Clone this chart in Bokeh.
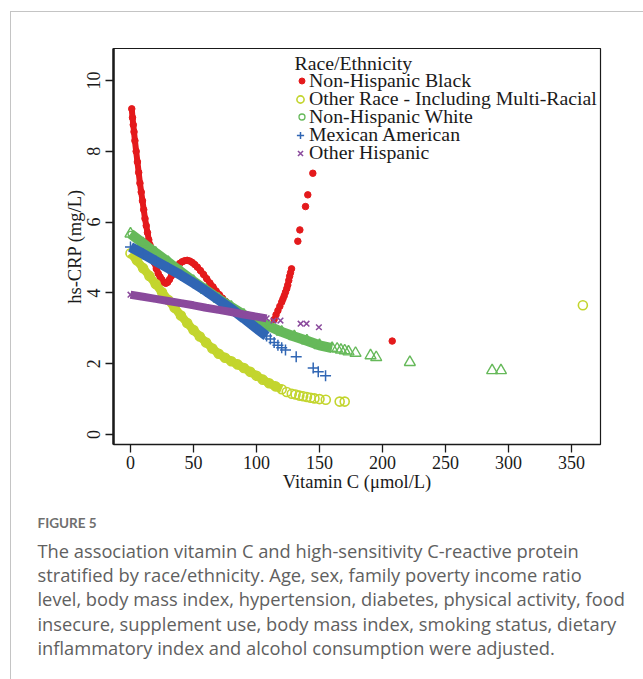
from bokeh.plotting import figure
from bokeh.layouts import column
from bokeh.models import Legend, LegendItem, Label, FixedTicker, Range1d, InlineStyleSheet
from bokeh.embed import file_html
from bokeh.resources import INLINE

# ---------------- data ----------------
# Non-Hispanic Black (dense band + sparse tail)
black_x = [1.0, 1.6, 2.2, 2.8, 3.5, 4.5, 5.5, 6.5, 7.5, 8.5, 9.5, 10.5, 11.5, 12.5, 13.5, 14.5,
           15.5, 16.5, 17.5, 19, 20.5, 22, 23.5, 25, 26.5, 28, 29.5, 31, 32.5, 34, 35.5, 37, 39,
           41, 43, 45, 47, 49, 51, 53, 55.5, 58, 60.5, 63, 65.5, 68, 70.5, 73, 75.5, 78, 80.5,
           83, 85.5, 88, 91, 94, 97, 100, 103, 106, 109, 112]
black_y = [9.2, 8.95, 8.75, 8.55, 8.3, 8.0, 7.7, 7.4, 7.1, 6.85, 6.6, 6.35, 6.1, 5.9, 5.7, 5.5,
           5.35, 5.2, 5.05, 4.85, 4.68, 4.55, 4.45, 4.37, 4.3, 4.27, 4.3, 4.38, 4.48, 4.58, 4.68,
           4.76, 4.83, 4.88, 4.91, 4.92, 4.9, 4.86, 4.8, 4.73, 4.63, 4.52, 4.4, 4.28, 4.17, 4.05,
           3.95, 3.85, 3.76, 3.68, 3.61, 3.55, 3.49, 3.44, 3.38, 3.32, 3.27, 3.22, 3.17, 3.12,
           3.08, 3.05]
black_tail_x = [114, 115.5, 117, 118.5, 120, 121, 122, 123, 124, 124.8, 125.6, 126.3, 127, 127.8,
                132.8, 134.4, 138.9, 140.7, 144.7, 207.7]
black_tail_y = [3.25, 3.38, 3.5, 3.62, 3.74, 3.83, 3.92, 4.02, 4.12, 4.22, 4.35, 4.47, 4.57, 4.68,
                5.46, 5.78, 6.44, 6.77, 7.38, 2.64]

# Other Race - Including Multi-Racial
other_x = [0, 5, 10, 15, 20, 25, 30, 35, 40, 45, 50, 55, 60, 65, 70, 75, 80, 85, 90, 95, 100,
           105, 110, 115, 120]
other_y = [5.12, 4.92, 4.7, 4.48, 4.25, 4.02, 3.8, 3.58, 3.36, 3.15, 2.95, 2.77, 2.6, 2.43, 2.28,
           2.17, 2.07, 1.98, 1.88, 1.77, 1.66, 1.55, 1.45, 1.36, 1.28]
other_tail_x = [124, 128, 131, 134, 137, 140, 143, 146, 150, 155, 166, 170, 359]
other_tail_y = [1.2, 1.15, 1.13, 1.1, 1.08, 1.06, 1.04, 1.02, 1.0, 0.98, 0.93, 0.93, 3.65]

# Non-Hispanic White
white_x = [0, 10, 20, 30, 40, 50, 60, 70, 80, 90, 100, 110, 120, 130, 140, 150, 160]
white_y = [5.67, 5.4, 5.13, 4.87, 4.6, 4.33, 4.08, 3.83, 3.6, 3.38, 3.22, 3.06, 2.9, 2.77, 2.65,
           2.52, 2.44]
white_tail_x = [164, 167, 170, 173, 178.6, 190.5, 195, 221.7, 287, 294]
white_tail_y = [2.42, 2.39, 2.37, 2.34, 2.30, 2.23, 2.18, 2.04, 1.81, 1.81]

# Mexican American
mex_x = [0, 10, 20, 30, 40, 50, 60, 70, 80, 90, 100, 108]
mex_y = [5.3, 5.1, 4.9, 4.7, 4.5, 4.28, 4.05, 3.8, 3.55, 3.28, 3.0, 2.78]
mex_tail_x = [111, 114, 117, 120, 123, 131.5, 145, 149, 154.8]
mex_tail_y = [2.7, 2.6, 2.52, 2.45, 2.39, 2.2, 1.88, 1.77, 1.66]

# Other Hispanic
ohisp_x = [0, 10, 20, 30, 40, 50, 60, 70, 80, 90, 100, 108]
ohisp_y = [3.95, 3.89, 3.83, 3.77, 3.71, 3.65, 3.58, 3.52, 3.46, 3.39, 3.33, 3.28]
ohisp_tail_x = [113.5, 119, 135, 139.7, 149.5]
ohisp_tail_y = [3.22, 3.22, 3.13, 3.13, 3.03]

x_ticks = [0, 50, 100, 150, 200, 250, 300, 350]
y_ticks = [0, 2, 4, 6, 8, 10]

legend_title = "Race/Ethnicity"
legend_labels = ["Non-Hispanic Black", "Other Race - Including Multi-Racial",
                 "Non-Hispanic White", "Mexican American", "Other Hispanic"]

caption_title = "FIGURE 5"
caption_lines = [
    "The association vitamin C and high-sensitivity C-reactive protein",
    "stratified by race/ethnicity. Age, sex, family poverty income ratio",
    "level, body mass index, hypertension, diabetes, physical activity, food",
    "insecure, supplement use, body mass index, smoking status, dietary",
    "inflammatory index and alcohol consumption were adjusted.",
]

# ---------------- styling ----------------
RED = "#E41A1C"
YEL = "#C3D52E"
GRN = "#66B95A"
BLU = "#3066B4"
PUR = "#8A4A9C"
SERIF = "Liberation Serif"
INK = "#1a1a1a"

W = 643
H1 = 500
H2 = 179
FRAME_L, FRAME_R, FRAME_T, FRAME_B = 113, 600, 48, 444

p = figure(width=W, height=H1, output_backend="svg", toolbar_location=None,
           x_range=Range1d(-13.49, 373.0), y_range=Range1d(-0.282, 10.904),
           min_border_left=FRAME_L, min_border_right=W - FRAME_R,
           min_border_top=FRAME_T, min_border_bottom=H1 - FRAME_B)
p.grid.visible = False
p.outline_line_color = INK
p.outline_line_width = 1.2
p.background_fill_color = "white"
p.border_fill_color = "white"

for ax in (p.xaxis[0], p.yaxis[0]):
    ax.major_label_text_font = SERIF
    ax.major_label_text_font_size = "18px"
    ax.major_label_text_color = INK
    ax.axis_label_text_font = SERIF
    ax.axis_label_text_font_size = "18.5px"
    ax.axis_label_text_font_style = "normal"
    ax.axis_label_text_color = INK
    ax.minor_tick_line_color = None
    ax.major_tick_in = 0
    ax.major_tick_out = 8
    ax.major_tick_line_color = INK
    ax.major_tick_line_width = 1.3
    ax.axis_line_color = INK

p.xaxis[0].ticker = FixedTicker(ticks=x_ticks)
p.yaxis[0].ticker = FixedTicker(ticks=y_ticks)
p.xaxis[0].axis_label = "Vitamin C (\u03bcmol/L)"
p.yaxis[0].axis_label = "hs-CRP (mg/L)"
p.xaxis[0].axis_label_standoff = 0
p.yaxis[0].axis_label_standoff = 0
p.xaxis[0].major_label_standoff = 3
p.yaxis[0].major_label_standoff = 5
p.yaxis[0].major_label_orientation = "vertical"
p.yaxis[0].axis_line_width = 2.5
p.xaxis[0].axis_line_width = 1.3

# ---------------- series ----------------
# Non-Hispanic Black
p.line(black_x, black_y, line_color=RED, line_width=6)
r_black = p.scatter(black_x + black_tail_x, black_y + black_tail_y, marker="circle", size=6.5,
                    fill_color=RED, line_color=RED)

# Other race
p.line(other_x, other_y, line_color=YEL, line_width=8.5)
r_other = p.scatter(other_x + other_tail_x, other_y + other_tail_y, marker="circle", size=9,
                    fill_color=None, line_color=YEL, line_width=1.6)

# Non-Hispanic White (triangles in plot, small circle in legend)
r_white_leg = p.scatter(white_x[:1], white_y[:1], marker="circle", size=5, fill_color=None,
                        line_color=GRN, line_width=1.3)
p.line(white_x, white_y, line_color=GRN, line_width=10)
p.scatter(white_x + white_tail_x, white_y + white_tail_y, marker="triangle", size=11,
          fill_color=None, line_color=GRN, line_width=1.4)

# Mexican American
p.line(mex_x, mex_y, line_color=BLU, line_width=10)
r_mex = p.scatter(mex_x + mex_tail_x, mex_y + mex_tail_y, marker="cross", size=11,
                  line_color=BLU, line_width=1.5)

# Other Hispanic
p.line(ohisp_x, ohisp_y, line_color=PUR, line_width=8)
r_oh = p.scatter(ohisp_x + ohisp_tail_x, ohisp_y + ohisp_tail_y, marker="x", size=8,
                 line_color=PUR, line_width=1.5)

# ---------------- legend: one single-row Legend per entry, tight R-like spacing ----------------
LEG_TEXT_X = 309        # page x where the labels start
ROW0, PITCH = 80.5, 18.1
TEXT_H = 22             # row height Bokeh uses for ~19.5px text
key_boxes = [15, 18, 15, 18, 18]   # key box size (Bokeh draws markers at 0.4 x box)
renderers = [r_black, r_other, r_white_leg, r_mex, r_oh]

p.add_layout(Label(x=294 - FRAME_L, y=FRAME_B - 62, x_units="screen", y_units="screen",
                   text=legend_title, text_font=SERIF, text_font_size="19.8px",
                   text_color=INK, text_baseline="middle"))

for i, (lab, rr, gw) in enumerate(zip(legend_labels, renderers, key_boxes)):
    row_h = max(gw, TEXT_H)
    cy = ROW0 + PITCH * i
    left = LEG_TEXT_X - gw
    lg = Legend(items=[LegendItem(label=lab, renderers=[rr])],
                location=(round(left - FRAME_L), round(FRAME_B - (cy + row_h / 2))))
    lg.label_text_font = SERIF
    lg.label_text_font_size = "19.8px"
    lg.label_text_color = INK
    lg.glyph_width = gw
    lg.glyph_height = gw
    lg.label_height = 18
    lg.label_standoff = 0
    lg.spacing = 0
    lg.padding = 0
    lg.margin = 0
    lg.border_line_alpha = 0
    lg.background_fill_alpha = 0
    p.add_layout(lg, "center")

# ---------------- caption panel (page-pixel coordinates) ----------------
cap = figure(width=W, height=H2, output_backend="svg", toolbar_location=None,
             x_range=Range1d(0, W), y_range=Range1d(H1 + H2, H1),
             x_axis_location=None, y_axis_location=None, min_border=0)
cap.grid.visible = False
cap.outline_line_color = None
cap.background_fill_color = "white"
cap.border_fill_color = "white"

if "frame_align" in p.properties():
    p.frame_align = False
    cap.frame_align = False

cap.add_layout(Label(x=37, y=522, text=caption_title, text_font="Lato", text_font_size="13.5px",
                     text_font_style="bold", text_color="#6f6f6f", text_baseline="middle"))
for i, line in enumerate(caption_lines):
    cap.add_layout(Label(x=37, y=550 + 24.2 * i, text=line, text_font="Open Sans",
                         text_font_size="18.3px", text_color="#606060", text_baseline="middle"))

frame_css = InlineStyleSheet(css="""
:host { position: relative; }
:host::after { content: ""; position: absolute; left: 10px; top: 11px; right: 0; bottom: 0;
  border-top: 1px solid #c4c4c4; border-left: 1px solid #c4c4c4; pointer-events: none; z-index: 10; }
""")
layout = column(p, cap, spacing=0, stylesheets=[frame_css])

open("out.html", "w").write(file_html(layout, INLINE))
